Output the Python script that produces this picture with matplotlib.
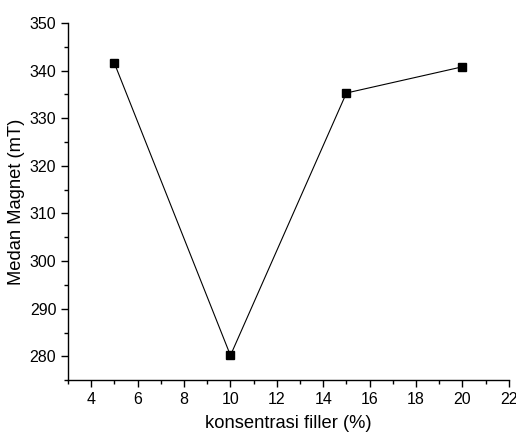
import matplotlib.pyplot as plt
from matplotlib.ticker import MultipleLocator

# data
konsentrasi = [5, 10, 15, 20]
medan_magnet = [341.5, 280.2, 335.3, 340.8]

plt.rcParams['font.family'] = ['Liberation Sans', 'DejaVu Sans']

fig = plt.figure(figsize=(5.16, 4.34), dpi=100)
ax = fig.add_axes([0.132, 0.124, 0.854, 0.823])

ax.plot(konsentrasi, medan_magnet, color='black', linewidth=0.8,
        marker='s', markersize=6, markerfacecolor='black', markeredgecolor='black')

ax.set_xlim(3, 22)
ax.set_ylim(275, 350)
ax.xaxis.set_major_locator(MultipleLocator(2))
ax.xaxis.set_minor_locator(MultipleLocator(1))
ax.yaxis.set_major_locator(MultipleLocator(10))
ax.yaxis.set_minor_locator(MultipleLocator(5))

for side in ['top', 'right']:
    ax.spines[side].set_visible(False)
for side in ['left', 'bottom']:
    ax.spines[side].set_linewidth(1.0)

ax.tick_params(which='major', direction='out', length=5, width=1.0, labelsize=11.5)
ax.tick_params(which='minor', direction='out', length=3, width=1.0)

ax.set_xlabel('konsentrasi filler (%)', fontsize=13.2, labelpad=6)
ax.set_ylabel('Medan Magnet (mT)', fontsize=13.2, labelpad=3)

fig.savefig('out.png', dpi=100)
